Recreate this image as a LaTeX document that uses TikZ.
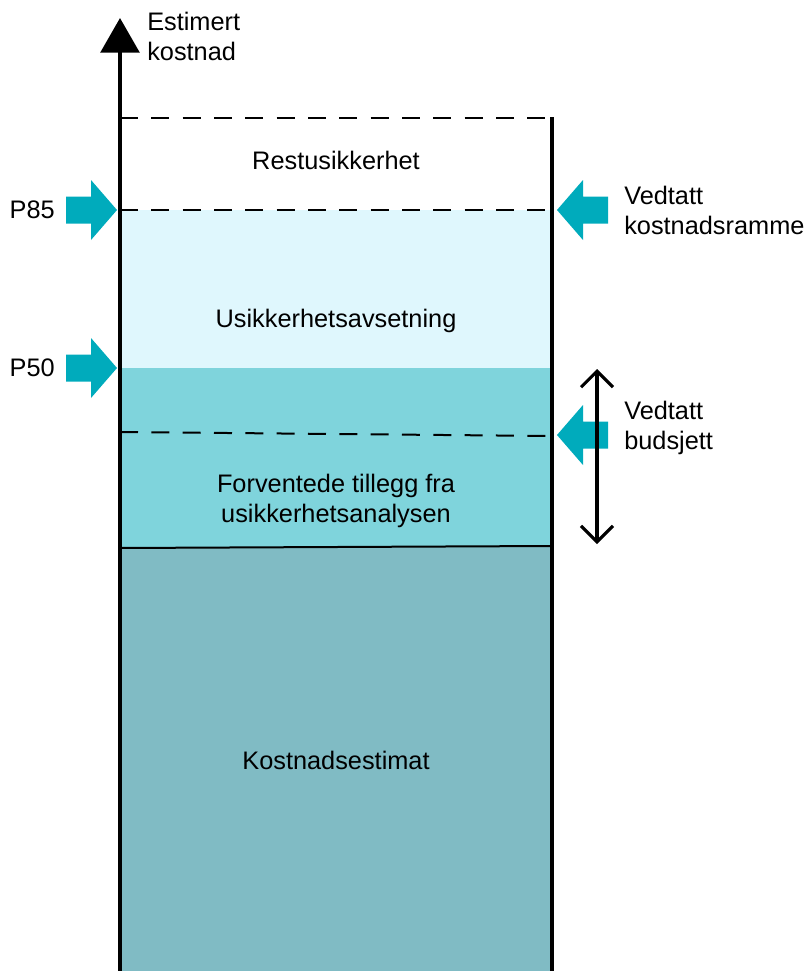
\documentclass[tikz,border=0pt]{standalone}
\usepackage{fontspec}
\setmainfont{Liberation Sans}
\usetikzlibrary{arrows.meta,positioning}
\definecolor{arrowteal}{HTML}{00ABBC}
\definecolor{avsetfill}{HTML}{DFF7FD}
\definecolor{tilleggfill}{HTML}{7FD4DC}
\definecolor{estimatfill}{HTML}{80BBC4}
\tikzset{
  txt/.style={font=\fontsize{19}{22.5}\selectfont, align=center, inner sep=0pt},
  sidetxt/.style={txt, align=left, anchor=west},
  limitline/.style={dash pattern=on 13.5pt off 10pt, line width=1.5pt},
  axisline/.style={line width=3pt},
  spanarrow/.style={{Straight Barb[length=12pt,width=24pt]}-{Straight Barb[length=12pt,width=24pt]}, line width=2.3pt},
  pics/blockarrow/.style={code={
    \fill[arrowteal] (0,0) -- (-26,-30) -- (-26,-13.5) -- (-51,-13.5)
      -- (-51,13.5) -- (-26,13.5) -- (-26,30) -- cycle;}}
}

\begin{document}
\begin{tikzpicture}[x=0.75pt, y=-0.75pt]
\useasboundingbox (0,0) rectangle (806,971);

% bands
\fill[avsetfill]   (120,210) rectangle (552,368);
\fill[tilleggfill] (120,368) rectangle (552,547);
\fill[estimatfill] (120,547) rectangle (552,971);

\coordinate (origin) at (120,971);
\coordinate (ytop)   at (120,18);
\coordinate (rbot)   at (552,971);
\coordinate (rtop)   at (552,117);

% limits
\draw[limitline] (120,118) -- (552,118);
\draw[limitline] (120,210) -- (552,210);
\draw[limitline] (120,432) -- (552,436);
\draw[line width=1.5pt] (120,548) -- (552,546);

% axes
\draw[axisline, -{Triangle[length=26pt,width=29pt]}] (origin) -- (ytop);
\draw[line width=2.6pt] (rbot) -- (rtop);

% texts
\node (rest)    [txt] at (336,160) {Restusikkerhet};
\node (avset)   [txt] at (336,321) {Usikkerhetsavsetning};
\node (tillegg) [txt] at (336,501) {Forventede tillegg fra\\usikkerhetsanalysen};
\node (estimat) [txt] at (336,760) {Kostnadsestimat};
\node (ylabel)  [sidetxt] at (147,36) {Estimert\\kostnad};
\node (p85)     [txt, anchor=east] at (55,210) {P85};
\node (p50)     [txt, anchor=east] at (55,368) {P50};
\node (ramme)   [sidetxt] at (624,210) {Vedtatt\\kostnadsramme};
\node (budsjett)[sidetxt] at (624,428) {Vedtatt\\budsjett};

% block arrows
\foreach \xtip/\ytip/\dir in {117/210/1, 117/368/1, 557/210/-1, 557/435/-1}{
  \pic[xscale=\dir] at (\xtip,\ytip) {blockarrow};
}

\coordinate (spantop) at (597,369);
\coordinate (spanbot) at (597,544);
\draw[spanarrow] (spantop) -- (spanbot);

\end{tikzpicture}
\end{document}
